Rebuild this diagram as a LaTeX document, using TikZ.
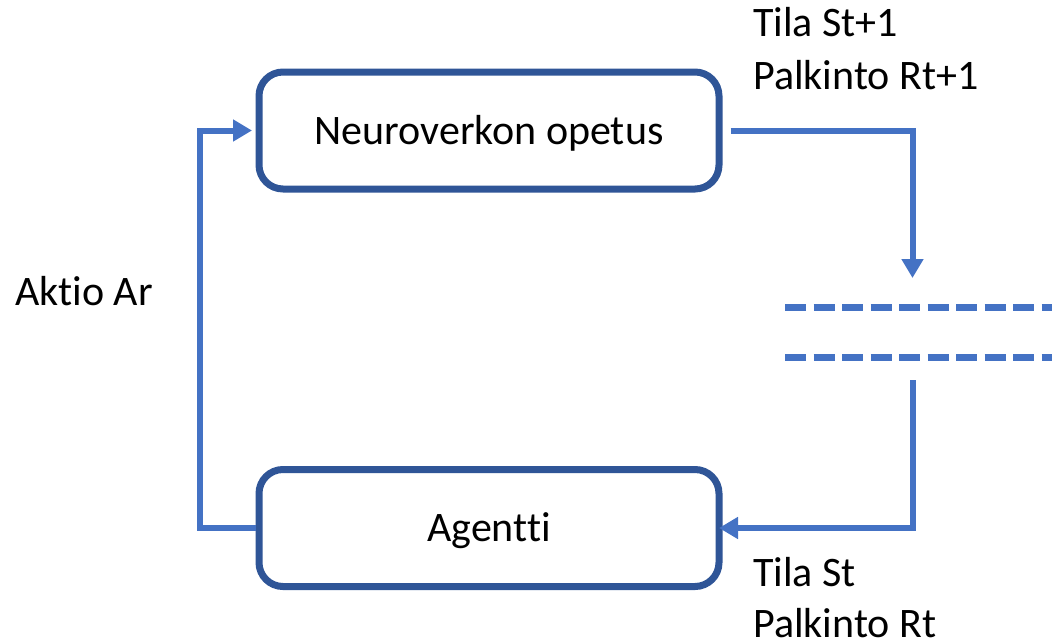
\documentclass[tikz,border=0pt]{standalone}
\usepackage{fontspec}
\setmainfont{Carlito}[Ligatures=NoCommon]
\usetikzlibrary{arrows.meta}

\definecolor{boxedge}{HTML}{2F5597}
\definecolor{flowblue}{HTML}{4472C4}

\begin{document}
\begin{tikzpicture}[x=1pt,y=-1pt,
  every node/.style={font=\fontsize{42}{52}\selectfont, text=black},
  procbox/.style={draw=boxedge, line width=7pt, rounded corners=24pt,
    fill=white, minimum width=460pt, minimum height=117pt,
    text height=27pt, text depth=0pt, inner sep=0pt},
  flow/.style={draw=flowblue, line width=6pt},
  flowarrow/.style={flow, -{Triangle[length=19pt,width=21pt]}},
  gapline/.style={draw=flowblue, line width=7pt, dash pattern=on 21pt off 7.5pt},
  label/.style={anchor=base west, inner sep=0pt}
]
\useasboundingbox (0,0) rectangle (1052,641);

% the two process boxes
\node[procbox] (train) at (489,130.5) {Neuroverkon opetus};
\node[procbox] (agent) at (489,528) {Agentti};

% routing points of the loop
\coordinate (lcol) at (200,330);
\coordinate (rcol) at (912.5,330);
\coordinate (gapTop) at (912.5,278);
\coordinate (gapBot) at (912.5,380);

% environment boundary drawn as two dashed rails
\coordinate (railAw) at (785,307);
\coordinate (railAe) at (1060,307);
\coordinate (railBw) at (785,357);
\coordinate (railBe) at (1060,357);
\draw[gapline] (railAw) -- (railAe);
\draw[gapline] (railBw) -- (railBe);

% action: agent back to the network training
\draw[flowarrow, shorten >=3.5pt]
  (agent.west) -- (agent.west -| lcol) -- (train.west -| lcol) -- (train.west);

% new state and reward flowing out of the training box
\draw[flowarrow, shorten <=8pt]
  (train.east) -- (train.east -| rcol) -- (gapTop);

% state and reward arriving at the agent
\draw[flowarrow, shorten >=-3.5pt]
  (gapBot) -- (agent.east -| rcol) -- (agent.east);

% labels
\node[label] (stateNext)  at (753,36)  {Tila St+1};
\node[label] (rewardNext) at (753,89)  {Palkinto Rt+1};
\node[label] (action)     at (15,305)  {Aktio Ar};
\node[label] (state)      at (753,586) {Tila St};
\node[label] (reward)     at (753,637) {Palkinto Rt};
\end{tikzpicture}
\end{document}
